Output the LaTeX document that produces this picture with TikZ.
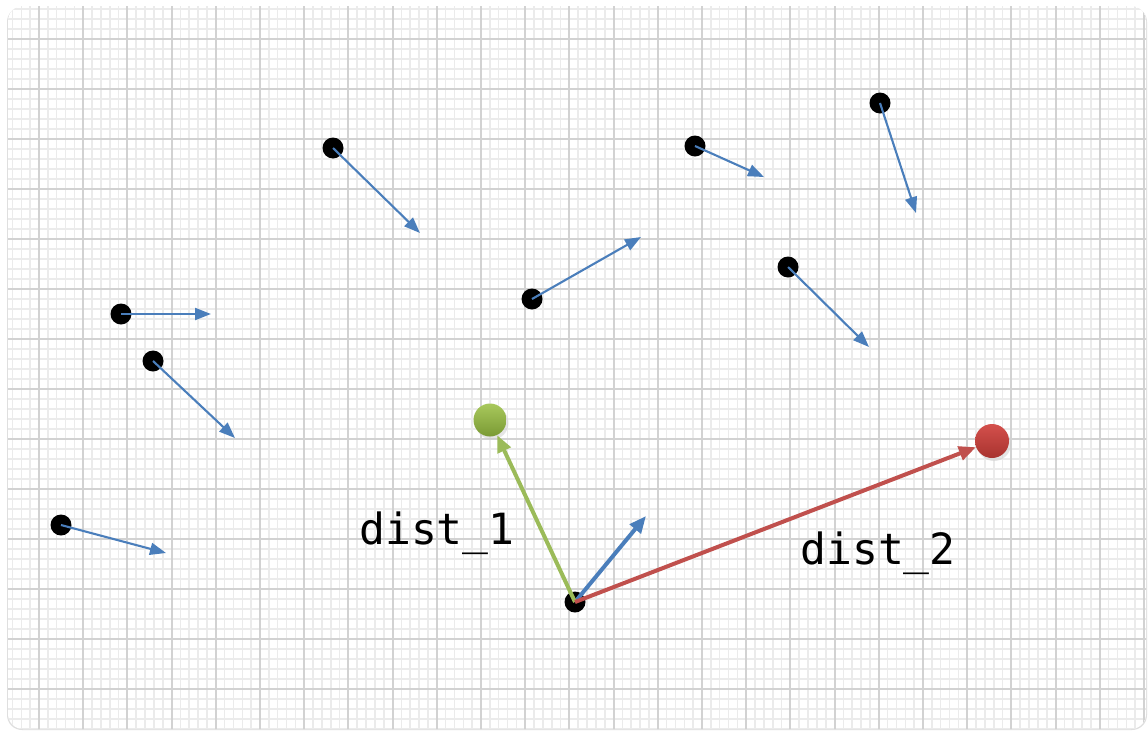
\documentclass[tikz,border=0pt]{standalone}
\usepackage{fontspec}
\newfontfamily\monof{DejaVu Sans Mono}
\usetikzlibrary{arrows.meta}
\definecolor{vblue}{HTML}{4A7EBB}
\definecolor{vgreen}{HTML}{9BBB59}
\definecolor{vred}{HTML}{C0504D}
\definecolor{gtop}{HTML}{A8C85C}
\definecolor{gbot}{HTML}{7A9A34}
\definecolor{rtop}{HTML}{D4504C}
\definecolor{rbot}{HTML}{A8332F}
\definecolor{gminor}{HTML}{EBEBEB}
\definecolor{gmajor}{HTML}{D2D2D2}
\tikzset{
  dot/.style={circle,fill=black,inner sep=0pt,minimum size=21pt},
  vec/.style={vblue,line width=2.1pt,-{Triangle[length=16pt,width=12pt]}},
  bigvec/.style={line width=4pt,-{Triangle[length=17pt,width=14pt]}},
  ballnode/.style={circle,inner sep=0pt,minimum size=33pt},
  lbl/.style={font=\monof\fontsize{43}{48}\selectfont,inner sep=0pt}
}
\begin{document}
\begin{tikzpicture}[x=1pt,y=-1pt]
\useasboundingbox (0,0) rectangle (1148,731);
\fill[white] (0,0) rectangle (1148,731);
% sheet shadow and sheet
\fill[gray!25,rounded corners=15pt] (7,7) rectangle (1147,730);
\begin{scope}
\clip[rounded corners=15pt] (8,6) rectangle (1146,729);
\fill[white] (0,0) rectangle (1148,731);
\foreach \i in {-4,...,126} {
  \draw[gminor,line width=1.6pt] ({39+\i*8.84},0) -- ({39+\i*8.84},731);
}
\foreach \j in {-4,...,70} {
  \draw[gminor,line width=1.6pt] (0,{39+\j*10}) -- (1148,{39+\j*10});
}
\foreach \i in {0,...,25} {
  \draw[gmajor,line width=2pt] ({39+\i*44.2},0) -- ({39+\i*44.2},731);
}
\foreach \j in {0,...,13} {
  \draw[gmajor,line width=2pt] (0,{39+\j*50}) -- (1148,{39+\j*50});
}
\end{scope}
% dots
\node[dot] (d1) at (333,148) {};
\node[dot] (d2) at (695,146) {};
\node[dot] (d3) at (880,103) {};
\node[dot] (d4) at (532,299) {};
\node[dot] (d5) at (788,267) {};
\node[dot] (d6) at (121,314) {};
\node[dot] (d7) at (153,361) {};
\node[dot] (d8) at (61,525) {};
\node[dot] (c) at (575,602) {};
% tips
\coordinate (t1) at (420,233);
\coordinate (t2) at (764,177);
\coordinate (t3) at (916,213);
\coordinate (t4) at (641,237);
\coordinate (t5) at (869,347);
\coordinate (t6) at (211,314);
\coordinate (t7) at (235,438);
\coordinate (t8) at (166,553);
\coordinate (tc) at (646,516);
\foreach \k in {1,...,8} {
  \draw[vec] (d\k.center) -- (t\k);
}
% balls
\fill[gray!40,opacity=0.5] (492,423) circle (16.5pt);
\fill[gray!40,opacity=0.5] (994,444) circle (17pt);
\node[ballnode,top color=gtop,bottom color=gbot] (g) at (490,420) {};
\node[ballnode,minimum size=34pt,top color=rtop,bottom color=rbot] (r) at (992,441) {};
% central arrows
\draw[bigvec,vblue] (c.center) -- (tc);
\draw[bigvec,vgreen] (c.center) -- (g);
\draw[bigvec,vred] (c.center) -- (r);
% labels
\node[lbl] (l1) at (437,533) {dist\_1};
\node[lbl] (l2) at (878,553) {dist\_2};
\end{tikzpicture}
\end{document}
